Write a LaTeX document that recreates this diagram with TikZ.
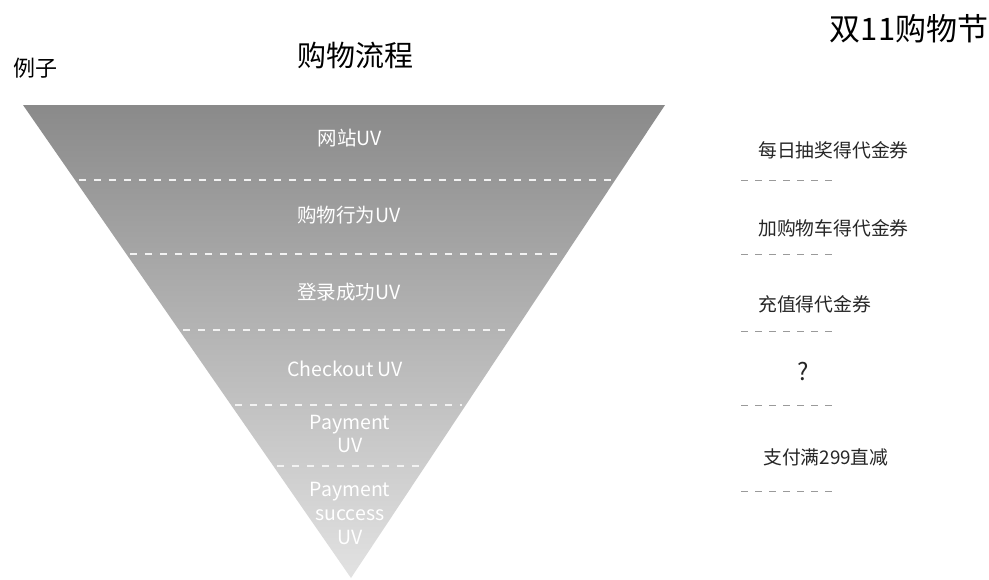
\documentclass[tikz,border=0pt]{standalone}
\usepackage{fontspec}
\setmainfont{Noto Sans CJK SC}
\usetikzlibrary{calc}
\definecolor{funneltop}{HTML}{8A8A8A}
\definecolor{funnelbot}{HTML}{E2E2E2}
\definecolor{sepline}{HTML}{F2F2F2}
\definecolor{rdash}{HTML}{9A9A9A}
\begin{document}
\begin{tikzpicture}[x=1pt,y=-1pt,
  stagelabel/.style={text=white,font=\fontsize{19.5}{23}\selectfont,align=center,inner sep=0pt},
  sidelabel/.style={text=black!85,font=\fontsize{18.8}{22}\selectfont,anchor=west,inner sep=0pt},
  titlelabel/.style={text=black,inner sep=0pt},
  innerdash/.style={draw=sepline,line width=1.2pt,dash pattern=on 7pt off 8pt},
  sidedash/.style={draw=rdash,line width=1pt,dash pattern=on 7pt off 7pt}]
\useasboundingbox (0,0) rectangle (989,579);
\fill[white] (0,0) rectangle (989,579);
% funnel
\coordinate (tl) at (23,105);
\coordinate (tr) at (665,105);
\coordinate (ap) at (351,578);
\shade[top color=funneltop,bottom color=funnelbot] (tl) -- (tr) -- (ap) -- cycle;
% separators: points on the two edges
\foreach \yy/\nm in {180/a,254/b,330/c,405/d,466/e}{
  \pgfmathsetmacro{\tt}{(\yy-105)/(578-105)}
  \coordinate (L\nm) at ($(tl)!\tt!(ap)$);
  \coordinate (R\nm) at ($(tr)!\tt!(ap)$);
  \draw[innerdash] ($(L\nm)+(4,0)$) -- ($(R\nm)+(-4,0)$);
}
% titles
\node[titlelabel,font=\fontsize{29}{34}\selectfont] (t1) at (355,55) {购物流程};
\node[titlelabel,font=\fontsize{31}{36}\selectfont] (t2) at (909,29) {双11购物节};
\node[text=black,font=\fontsize{22}{26}\selectfont,inner sep=0pt] (ex) at (35,68) {例子};
% stage labels
\node[stagelabel] (s1) at (350,138) {网站UV};
\node[stagelabel] (s2) at (349,215) {购物行为UV};
\node[stagelabel] (s3) at (349,292) {登录成功UV};
\node[stagelabel] (s4) at (345,369) {Checkout UV};
\node[stagelabel,font=\fontsize{19.5}{23}\selectfont] (s5) at (350,434) {Payment\\UV};
\node[stagelabel,font=\fontsize{19.5}{24}\selectfont] (s6) at (350,513) {Payment\\success\\UV};
% side labels
\node[sidelabel] (r1) at (758,150) {每日抽奖得代金券};
\node[sidelabel] (r2) at (758,228) {加购物车得代金券};
\node[sidelabel] (r3) at (758,304) {充值得代金券};
\node[text=black!85,font=\fontsize{24}{28}\selectfont,inner sep=0pt] (r4) at (803,372) {?};
\node[sidelabel] (r5) at (763,457) {支付满299直减};
% side dashed separators
\foreach \yy/\nm in {180/1,254/2,331/3,405/4,491/5}{
  \coordinate (sa\nm) at (741,\yy);
  \coordinate (sb\nm) at (836,\yy);
  \draw[sidedash] (sa\nm) -- (sb\nm);
}
\end{tikzpicture}
\end{document}
